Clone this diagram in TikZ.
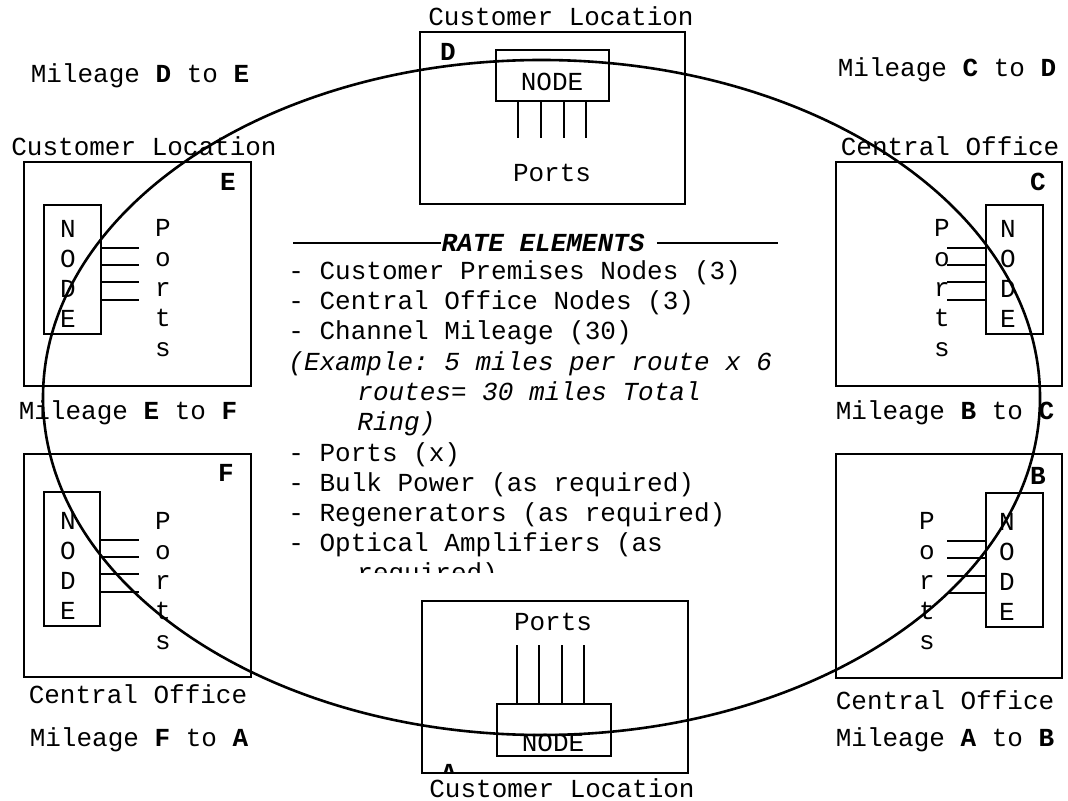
\documentclass[tikz,border=0pt]{standalone}
\usepackage{fontspec}
\setmainfont{Liberation Mono}
\frenchspacing
\begin{document}
\begin{tikzpicture}[x=0.5pt,y=-0.5pt,
      every node/.style = {font=\fontsize{13}{15}\selectfont, inner sep=0pt},
      site/.style = {draw, rectangle, line width=1.1pt},
      unit/.style = {draw, rectangle, line width=0.9pt},
      stack/.style = {align=center},
      port/.style = {line width=0.9pt},
      ring/.style = {line width=1.3pt}]
  \useasboundingbox (0,0) rectangle (1068,801);
  % outer boxes
  \node[site, minimum width=132.5pt, minimum height=86pt] (boxD) at (552.5,118) {};
  \node[site, minimum width=113.5pt, minimum height=112pt] (boxE) at (137.5,274) {};
  \node[site, minimum width=113pt, minimum height=112pt] (boxC) at (949,274) {};
  \node[site, minimum width=113.5pt, minimum height=111.5pt] (boxF) at (137.5,565.5) {};
  \node[site, minimum width=113pt, minimum height=112pt] (boxB) at (949,566) {};
  \node[site, minimum width=133pt, minimum height=86pt] (boxA) at (555,687) {};
  % inner node boxes
  \node[unit, minimum width=56.5pt, minimum height=25.5pt] (nodeD) at (552.5,75.5) {};
  \node[unit, minimum width=28.5pt, minimum height=64.5pt] (nodeE) at (72.5,269.5) {};
  \node[unit, minimum width=28.5pt, minimum height=64.5pt] (nodeC) at (1014.5,269.5) {};
  \node[unit, minimum width=28pt, minimum height=67pt] (nodeF) at (72,559) {};
  \node[unit, minimum width=28.5pt, minimum height=67pt] (nodeB) at (1014.5,560) {};
  \node[unit, minimum width=57pt, minimum height=26pt] (nodeA) at (554,730) {};
  % ports
  \foreach \x in {518,541,564,586}
    \draw[port] (\x,0 |- nodeD.south) -- ++(0,36);
  \foreach \x in {517,539,562,584}
    \draw[port] (\x,0 |- nodeA.north) -- ++(0,-58);
  \foreach \y in {248,265,282,300} {
    \draw[port] (nodeE.east |- 0,\y) -- ++(37,0);
    \draw[port] (nodeC.west |- 0,\y) -- ++(-38,0);
  }
  \foreach \y in {540,557,574,592}
    \draw[port] (nodeF.east |- 0,\y) -- ++(38,0);
  \foreach \y in {541,558,576,593}
    \draw[port] (nodeB.west |- 0,\y) -- ++(-38,0);
  % texts in boxes
  \node (tD) at (552,82) {NODE};
  \node (pD) at (552,173) {Ports};
  \node (tA) at (553,743) {NODE};
  \node (pA) at (553,622) {Ports};
  \node[stack] (tE) at (68,274) {N\\O\\D\\E};
  \node[stack] (pE) at (163,288) {P\\o\\r\\t\\s};
  \node[stack] (tC) at (1008,274) {N\\O\\D\\E};
  \node[stack] (pC) at (942,288) {P\\o\\r\\t\\s};
  \node[stack] (tF) at (68,566) {N\\O\\D\\E};
  \node[stack] (pF) at (163,581) {P\\o\\r\\t\\s};
  \node[stack] (tB) at (1007,567) {N\\O\\D\\E};
  \node[stack] (pB) at (927,581) {P\\o\\r\\t\\s};
  \node (lD) at (448,52) {\textbf{D}};
  \node (lE) at (228,182) {\textbf{E}};
  \node (lC) at (1038,182) {\textbf{C}};
  \node (lF) at (226,473) {\textbf{F}};
  \node (lB) at (1038,476) {\textbf{B}};
  \begin{scope}
    \clip (422,601) rectangle (688,772);
    \node (lA) at (449,773) {\textbf{A}};
  \end{scope}
  % site captions
  \node (cD) at (561,16) {Customer Location};
  \node (cE) at (144,146) {Customer Location};
  \node (cC) at (950,146) {Central Office};
  \node (cF) at (138,694) {Central Office};
  \node (cB) at (945,700) {Central Office};
  \node (cA) at (562,788) {Customer Location};
  % mileage labels
  \node (mDE) at (140,76) {Mileage \textbf{D} to \textbf{E}};
  \node (mCD) at (947,70) {Mileage \textbf{C} to \textbf{D}};
  \node (mEF) at (128,413) {Mileage \textbf{E} to \textbf{F}};
  \node (mBC) at (945,413) {Mileage \textbf{B} to \textbf{C}};
  \node (mFA) at (139,740) {Mileage \textbf{F} to \textbf{A}};
  \node (mAB) at (945,740) {Mileage \textbf{A} to \textbf{B}};
  % rate elements
  \node (title) at (543,243) {\textbf{\textit{RATE ELEMENTS}}};
  \draw[port] (293,243) -- (title.west);
  \draw[port] ([xshift=6pt]title.east) -- (778,243);
  \begin{scope}
    \clip (280,250) rectangle (800,572);
    \node[anchor=base west] (r1) at (288,280) {- Customer Premises Nodes (3)};
    \node[anchor=base west] (r2) at (288,310) {- Central Office Nodes (3)};
    \node[anchor=base west] (r3) at (288,340) {- Channel Mileage (30)};
    \node[anchor=base west] (r4) at (288,371) {\textit{(Example: 5 miles per route x 6}};
    \node[anchor=base west] (r5) at (357,400) {\textit{routes= 30 miles Total}};
    \node[anchor=base west] (r6) at (357,430) {\textit{Ring)}};
    \node[anchor=base west] (r7) at (288,461) {- Ports (x)};
    \node[anchor=base west] (r8) at (288,491) {- Bulk Power (as required)};
    \node[anchor=base west] (r9) at (288,521) {- Regenerators (as required)};
    \node[anchor=base west] (r10) at (288,551) {- Optical Amplifiers (as};
    \node[anchor=base west] (r11) at (357,581) {required)};
  \end{scope}
  % the ring
  \draw[ring] (541.5,397.5) ellipse [x radius=498.5, y radius=337.5];
\end{tikzpicture}
\end{document}
